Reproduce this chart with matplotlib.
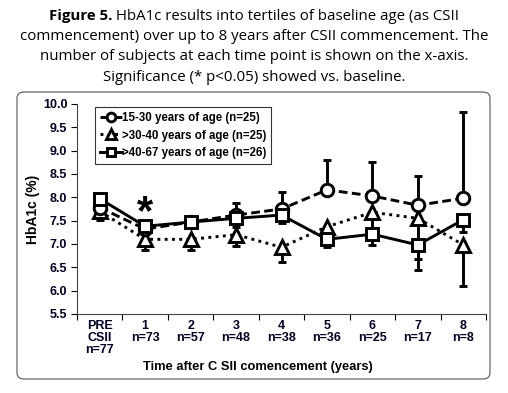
import matplotlib
matplotlib.use("Agg")
import matplotlib.pyplot as plt
from matplotlib.patches import FancyBboxPatch
import numpy as np

# x categories and n per time point
cats = ["PRE\nCSII\nn=77", "1\nn=73", "2\nn=57", "3\nn=48", "4\nn=38",
        "5\nn=36", "6\nn=25", "7\nn=17", "8\nn=8"]

# HbA1c (%) per tertile of baseline age
young = [7.78, 7.32, 7.47, 7.62, 7.75, 8.16, 8.03, 7.83, 7.98]
young_up = [0.15, 0.10, 0.10, 0.26, 0.36, 0.65, 0.72, 0.62, 1.85]

mid = [7.70, 7.10, 7.10, 7.20, 6.93, 7.37, 7.68, 7.55, 6.98]
mid_lo = [0.18, 0.22, 0.22, 0.24, 0.31, 0.12, 0.45, 1.10, 0.89]

old = [7.97, 7.38, 7.47, 7.55, 7.62, 7.10, 7.21, 6.98, 7.52]
old_lo = [0.20, 0.15, 0.12, 0.18, 0.18, 0.17, 0.23, 0.30, 0.26]

labels = ["15-30 years of age (n=25)", ">30-40 years of age (n=25)",
          ">40-67 years of age (n=26)"]

title_bold = "Figure 5."
title_lines = [" HbA1c results into tertiles of baseline age (as CSII",
               "commencement) over up to 8 years after CSII commencement. The",
               "number of subjects at each time point is shown on the x-axis.",
               "Significance (* p<0.05) showed vs. baseline."]

fig = plt.figure(figsize=(5.08, 3.93), dpi=100)
W, H = 508, 393

# rounded frame around the chart
frame = FancyBboxPatch((17 / W, 1 - 379 / H), (490 - 17) / W, (379 - 92) / H,
                       boxstyle="round,pad=0,rounding_size=0.015",
                       transform=fig.transFigure, facecolor="none",
                       edgecolor="#555555", linewidth=0.8)
fig.patches.append(frame)

ax = fig.add_axes([77 / W, 1 - 314 / H, (486 - 77) / W, (314 - 104) / H])
ax.patch.set_alpha(0)
x = np.arange(len(cats))

lw = 2.1
ax.errorbar(x, young, yerr=[np.zeros(len(x)), young_up], fmt="none",
            ecolor="black", elinewidth=lw, capsize=3, capthick=lw, zorder=2)
ax.errorbar(x, mid, yerr=[mid_lo, np.zeros(len(x))], fmt="none",
            ecolor="black", elinewidth=lw, capsize=3, capthick=lw, zorder=2)
ax.errorbar(x, old, yerr=[old_lo, np.zeros(len(x))], fmt="none",
            ecolor="black", elinewidth=lw, capsize=3, capthick=lw, zorder=2)

ax.plot(x, young, color="black", linestyle=(0, (3, 1.5)), linewidth=lw,
        marker="o", markersize=9, markerfacecolor="white",
        markeredgewidth=lw, label=labels[0], zorder=4)
ax.plot(x, mid, color="black", linestyle=(0, (1, 1.5)), linewidth=lw,
        marker="^", markersize=9.5, markerfacecolor="white",
        markeredgewidth=lw, label=labels[1], zorder=3)
ax.plot(x, old, color="black", linestyle="-", linewidth=lw,
        marker="s", markersize=9, markerfacecolor="white",
        markeredgewidth=lw, label=labels[2], zorder=5)

ax.text(1, 7.66, "*", ha="center", va="center", fontsize=30,
        fontweight="bold", family="Liberation Sans")

ax.set_xlim(-0.5, 8.5)
ax.set_ylim(5.5, 10.0)
ax.set_yticks(np.arange(5.5, 10.01, 0.5))
ax.set_yticklabels([f"{v:.1f}" for v in np.arange(5.5, 10.01, 0.5)])
ax.set_xticks(x)
ax.set_xticklabels(cats, linespacing=1.0)
ax.set_xticks(np.arange(-0.5, 9.0, 1.0), minor=True)
ax.tick_params(axis="x", which="major", length=0, pad=4)
ax.tick_params(axis="x", which="minor", length=4, direction="out", width=0.8)
ax.tick_params(axis="y", length=4, direction="out", width=0.8, pad=3)
for t in ax.get_xticklabels() + ax.get_yticklabels():
    t.set_family("Liberation Sans")
    t.set_fontweight("bold")
    t.set_fontsize(9)
    t.set_color("#000022")

ax.spines["top"].set_visible(False)
ax.spines["right"].set_visible(False)
ax.spines["left"].set_color("#444444")
ax.spines["bottom"].set_color("#444444")

ax.set_ylabel("HbA1c (%)", family="Liberation Sans", fontweight="bold",
              fontsize=10, labelpad=2)
ax.set_xlabel("Time after C SII comencement (years)", family="Liberation Sans",
              fontweight="bold", fontsize=9.3, labelpad=3)
ax.xaxis.set_label_coords((258 - 77) / 409, -0.253)
ax.xaxis.label.set_va("center")

leg = ax.legend(loc="upper left", bbox_to_anchor=(0.045, 0.985),
                prop={"family": "Liberation Sans", "weight": "bold", "size": 8.3},
                frameon=True, fancybox=False, edgecolor="black",
                handlelength=1.9, handletextpad=0.0, borderpad=0.4,
                labelspacing=0.5, borderaxespad=0, markerscale=0.7)
leg.get_frame().set_linewidth(0.8)

# title: first line mixes bold and regular
fs = 10.8
tfont = "Open Sans"
r = fig.canvas.get_renderer()
tb = fig.text(0, 0, title_bold, fontsize=fs, family=tfont, fontweight="bold")
tr = fig.text(0, 0, title_lines[0], fontsize=fs, family=tfont)
wb = tb.get_window_extent(r).width
wr = tr.get_window_extent(r).width
x0 = (W / 2 - (wb + wr) / 2) / W
y1 = 1 - 16 / H
tb.set_position((x0, y1))
tb.set_va("center")
tr.set_position((x0 + wb / W, y1))
tr.set_va("center")
for i, line in enumerate(title_lines[1:]):
    fig.text(0.5, 1 - (16 + 20.5 * (i + 1)) / H, line, fontsize=fs,
             family=tfont, ha="center", va="center")

fig.savefig("out.png", dpi=100)
